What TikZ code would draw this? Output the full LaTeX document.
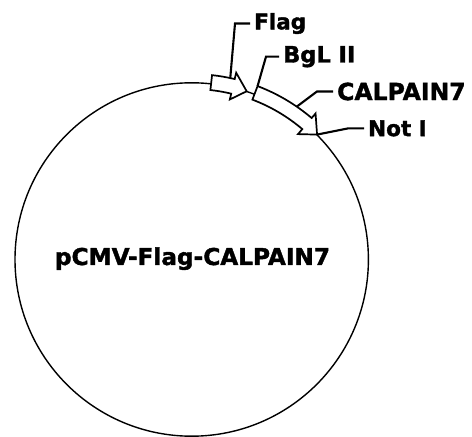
\documentclass[tikz,border=0pt]{standalone}
\usepackage{fontspec}
\newfontfamily\heavy{DejaVu Sans Bold}[FakeBold=1.6]
\begin{document}
\begin{tikzpicture}[x=1pt,y=1pt,
  ring/.style={line width=1.4pt},
  feat/.style={draw, fill=white, line width=1.7pt, line join=miter},
  ptr/.style={line width=2.1pt},
  lbl/.style={font=\heavy\fontsize{#1}{26}\selectfont, inner xsep=4pt, inner ysep=0pt, anchor=west},
  lbl/.default=22,
  title/.style={font=\heavy\fontsize{23.2}{28}\selectfont, inner sep=0pt, anchor=base}]
\useasboundingbox (0,0) rectangle (472,437);
\coordinate (C) at (191.7,177.5);
\draw[ring] (C) circle[radius=176.7];
\begin{scope}[shift={(C)}]
  % Flag feature
  \draw[feat] (83.7:170.5) arc[start angle=83.7,end angle=76.6,radius=170.5]
    -- (76.6:164.5) -- (71.9:177) -- (76.6:192) -- (76.6:185.5)
    arc[start angle=76.6,end angle=83.7,radius=185.5] -- cycle;
  % CALPAIN7 feature
  \draw[feat] (69.2:171) arc[start angle=69.2,end angle=49.7,radius=171]
    -- (49.7:164.4) -- (44.9:177) -- (49.7:191.5) -- (49.7:185.5)
    arc[start angle=49.7,end angle=69.2,radius=185.5] -- cycle;
  \coordinate (fp) at (78:185.5);
  \coordinate (bp) at (69.2:185.5);
  \coordinate (cp) at (55.5:185.5);
  \coordinate (np) at (44.9:177);
\end{scope}
\node[lbl=21.5] (flag) at (250,413.5) {Flag};
\node[lbl=22.5] (bgl) at (279,380.3) {BgL II};
\node[lbl=23.5] (cal) at (333,345.5) {CALPAIN7};
\node[lbl=21.5] (noti) at (364,308.6) {Not I};
\coordinate (fe) at (235,413.5);
\coordinate (be) at (266,380.3);
\coordinate (ce) at (317,345.5);
\coordinate (ne) at (348,308.6);
\draw[ptr] (fp) -- (fe) -- (flag.west);
\draw[ptr] (bp) -- (be) -- (bgl.west);
\draw[ptr] (cp) -- (ce) -- (cal.west);
\draw[ptr] (np) -- (ne) -- (noti.west);
\node[title] (name) at (192.5,172) {pCMV-Flag-CALPAIN7};
\end{tikzpicture}
\end{document}
